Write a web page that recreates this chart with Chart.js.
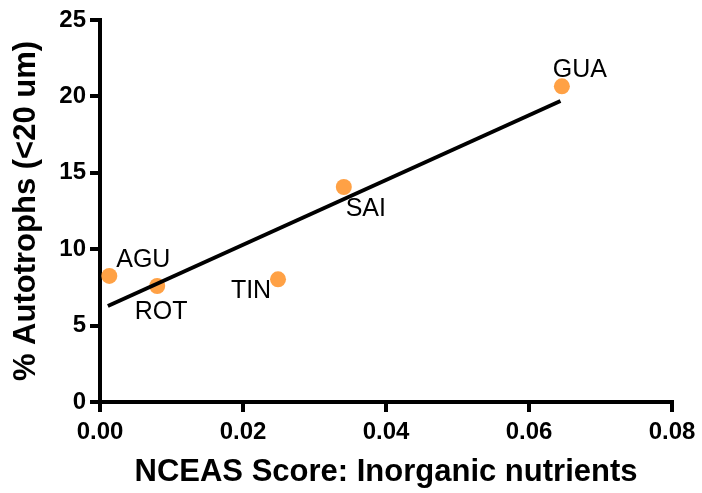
<!DOCTYPE html>
<html>
<head>
<meta charset="utf-8">
<script src="https://cdn.jsdelivr.net/npm/chart.js@4.4.1/dist/chart.umd.min.js"></script>
<style>
    html, body { margin: 0; padding: 0; background: #fff; }
    #wrap { width: 702px; height: 493px; }
</style>
</head>
<body>
<div id="wrap"><canvas id="scoreChart" width="702" height="493"></canvas></div>
<script>
// Sites and values
const sites = ['AGU', 'ROT', 'TIN', 'SAI', 'GUA'];
const nutrientScore = [0.0013, 0.0080, 0.0249, 0.0341, 0.0646];
const autotrophPct = [8.25, 7.59, 8.03, 14.07, 20.66];

// Linear fit line end points
const fitX = [0.0011, 0.0644];
const fitY = [6.28, 19.70];

// Axis ticks
const xTicks = [0, 0.02, 0.04, 0.06, 0.08];
const yTicks = [0, 5, 10, 15, 20, 25];

// Label placement relative to each point (px): [dx, dy of baseline]
const labelOffsets = [[34, -9], [4, 33], [-27, 19], [22, 29], [18, -9]];

const FONT = "'Liberation Sans', Arial, Helvetica, sans-serif";
const ORANGE = '#FFA145';

const siteLabels = {
    id: 'siteLabels',
    afterDatasetsDraw(chart) {
        const ctx = chart.ctx;
        const meta = chart.getDatasetMeta(1);
        ctx.save();
        ctx.font = '25px ' + FONT;
        ctx.fillStyle = '#000';
        ctx.textAlign = 'center';
        ctx.textBaseline = 'alphabetic';
        meta.data.forEach((pt, i) => {
            const off = labelOffsets[i];
            ctx.fillText(sites[i], pt.x + off[0], pt.y + off[1]);
        });
        ctx.restore();
    }
};

const axisLine = { display: true, color: '#000', width: 4 };
const tickGrid = { drawOnChartArea: false, drawTicks: true, tickLength: 10, color: '#000', lineWidth: 4 };

new Chart(document.getElementById('scoreChart'), {
    type: 'scatter',
    data: {
        datasets: [{
            type: 'line',
            data: fitX.map((x, i) => ({ x: x, y: fitY[i] })),
            borderColor: '#000',
            borderWidth: 4,
            pointRadius: 0,
            fill: false
        }, {
            data: nutrientScore.map((x, i) => ({ x: x, y: autotrophPct[i] })),
            backgroundColor: ORANGE,
            borderWidth: 0,
            pointRadius: 8
        }]
    },
    options: {
        responsive: false,
        animation: false,
        devicePixelRatio: 1,
        layout: { padding: { left: 0, right: 30, top: 20, bottom: 0 } },
        plugins: {
            legend: { display: false },
            tooltip: { enabled: false }
        },
        scales: {
            x: {
                type: 'linear',
                min: 0,
                max: 0.08,
                afterBuildTicks: (s) => { s.ticks = xTicks.map(v => ({ value: v })); },
                ticks: {
                    color: '#000',
                    padding: 6,
                    maxRotation: 0,
                    font: { family: FONT, size: 24, weight: 'bold' },
                    callback: (v) => v.toFixed(2)
                },
                grid: tickGrid,
                border: axisLine,
                title: {
                    display: true,
                    text: 'NCEAS Score: Inorganic nutrients',
                    color: '#000',
                    font: { family: FONT, size: 31, weight: 'bold', lineHeight: 1.2 },
                    padding: { top: 0, bottom: 2 }
                },
                afterFit: (s) => { s.height = 91; }
            },
            y: {
                min: 0,
                max: 25,
                afterBuildTicks: (s) => { s.ticks = yTicks.map(v => ({ value: v })); },
                ticks: {
                    color: '#000',
                    padding: 4,
                    font: { family: FONT, size: 24, weight: 'bold' },
                    callback: (v) => String(v)
                },
                grid: tickGrid,
                border: axisLine,
                title: {
                    display: true,
                    text: '% Autotrophs (<20 um)',
                    color: '#000',
                    font: { family: FONT, size: 31, weight: 'bold', lineHeight: 1.2 },
                    padding: { top: 8, bottom: 0 }
                },
                afterFit: (s) => { s.width = 100; }
            }
        }
    },
    plugins: [siteLabels]
});
</script>
</body>
</html>
